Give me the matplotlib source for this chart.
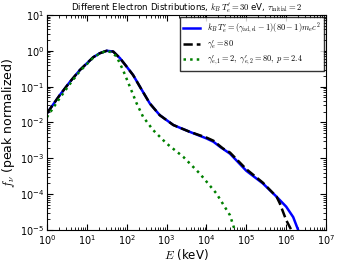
import matplotlib
matplotlib.use('Agg')
import matplotlib.pyplot as plt

# values (E in keV, f normalized to peak)
E_blue = [1, 2.1, 3.8, 6.7, 14.5, 21, 31.6, 46, 68, 100, 145, 214, 380, 676,
          1480, 3800, 10000, 15000, 21900, 39000, 100000, 260000, 575000,
          1000000, 1500000, 2000000]
f_blue = [0.018, 0.058, 0.137, 0.29, 0.66, 0.85, 1.0, 0.95, 0.62, 0.36, 0.21,
          0.10, 0.034, 0.016, 0.0085, 0.0055, 0.0036, 0.0029, 0.0021, 0.00135,
          0.00045, 0.0002, 8.5e-5, 4.5e-5, 2.3e-5, 1e-5]

E_black = [1, 2.1, 3.8, 6.7, 14.5, 21, 31.6, 46, 68, 100, 145, 214, 380, 676,
           1480, 3800, 10000, 15000, 25700, 39000, 100000, 260000, 575000,
           690000, 1000000, 1350000]
f_black = [0.018, 0.058, 0.137, 0.29, 0.66, 0.85, 1.0, 0.95, 0.62, 0.36, 0.21,
           0.10, 0.034, 0.016, 0.0085, 0.0055, 0.0038, 0.0031, 0.0019, 0.00145,
           0.0005, 0.00021, 8.5e-5, 5.6e-5, 1.9e-5, 1e-5]

E_green = [1, 2.1, 3.8, 6.7, 14.5, 21, 31.6, 42, 56, 81, 120, 178, 257, 457,
           1000, 2630, 6760, 17800, 38900, 51300]
f_green = [0.014, 0.048, 0.12, 0.27, 0.64, 0.84, 1.0, 0.9, 0.69, 0.29, 0.1,
           0.034, 0.0145, 0.0062, 0.0026, 0.0011, 0.00038, 0.000105, 2.6e-5, 1e-5]

plt.rcParams['mathtext.fontset'] = 'cm'
plt.rcParams['xtick.direction'] = 'in'
plt.rcParams['ytick.direction'] = 'in'
plt.rcParams['xtick.top'] = True
plt.rcParams['ytick.right'] = True

fig = plt.figure(figsize=(3.4, 2.66), dpi=100)
ax = fig.add_axes([0.138, 0.135, 0.821, 0.809])

ax.plot(E_blue, f_blue, color='b', lw=1.8,
        label=r"$k_B\,T_e'=(\gamma_{\rm ad,el}-1)(80-1)m_ec^2$")
ax.plot(E_black, f_black, 'k--', lw=1.8, label=r"$\gamma_e'=80$")
ax.plot(E_green, f_green, color='g', ls=':', lw=1.8,
        label=r"$\gamma_{e,1}'=2,\ \gamma_{e,2}'=80,\ p=2.4$")

ax.set_xscale('log')
ax.set_yscale('log')
ax.set_xlim(1, 1e7)
ax.set_ylim(1e-5, 10)
ax.tick_params(which='major', length=4, labelsize=7, pad=2)
ax.tick_params(which='minor', length=2)

ax.set_title(r"Different Electron Distributions, $k_B\,T_e'=30$ eV, $\tau_{\rm initial}=2$",
             fontsize=6.2, pad=2)
ax.set_xlabel(r"$E$ (keV)", fontsize=8.5, labelpad=0)
ax.set_ylabel(r"$f_\nu$ (peak normalized)", fontsize=9, labelpad=2)

leg = ax.legend(loc='upper right', fontsize=6, fancybox=False, borderaxespad=0.3,
                handlelength=2, labelspacing=0.3)
leg.get_frame().set_edgecolor('k')

fig.savefig('out.png', dpi=100)
